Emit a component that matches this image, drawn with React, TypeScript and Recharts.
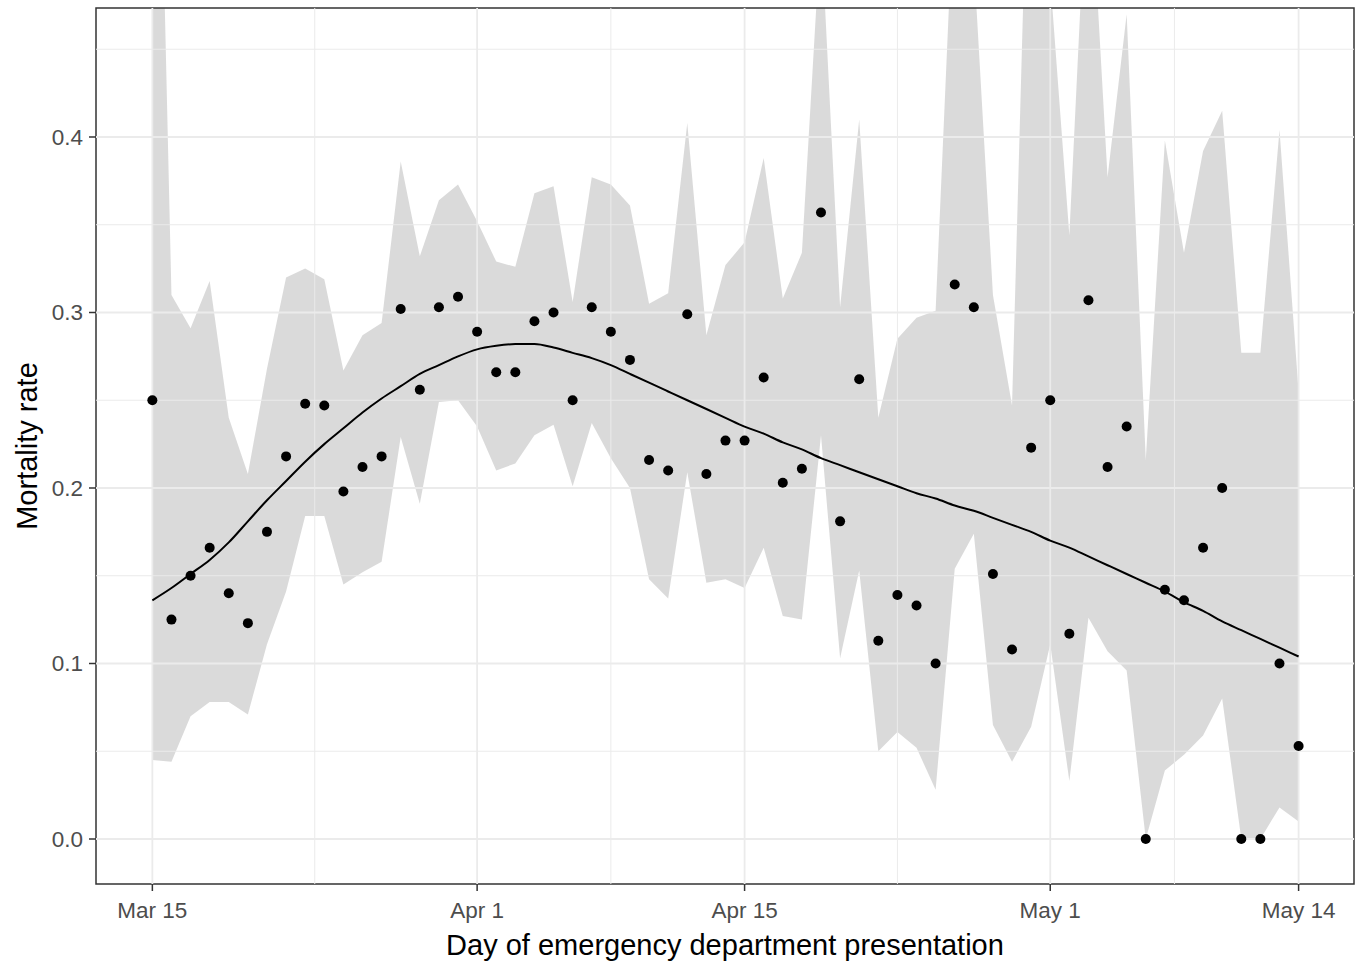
import {
  ComposedChart,
  Area,
  Line,
  Scatter,
  XAxis,
  YAxis,
  ReferenceLine,
  ReferenceArea,
} from 'recharts';

// day index 0 = Mar 15
const tickDays = [0, 17, 31, 47, 60];
const tickLabels = ['Mar 15', 'Apr 1', 'Apr 15', 'May 1', 'May 14'];
const minorDays = [8.5, 24, 39, 53.5];
const yTicks = [0, 0.1, 0.2, 0.3, 0.4];
const yMinor = [0.05, 0.15, 0.25, 0.35, 0.45];

const rate = [
  0.25, 0.125, 0.15, 0.166, 0.14, 0.123, 0.175, 0.218, 0.248, 0.247,
  0.198, 0.212, 0.218, 0.302, 0.256, 0.303, 0.309, 0.289, 0.266, 0.266,
  0.295, 0.3, 0.25, 0.303, 0.289, 0.273, 0.216, 0.21, 0.299, 0.208,
  0.227, 0.227, 0.263, 0.203, 0.211, 0.357, 0.181, 0.262, 0.113, 0.139,
  0.133, 0.1, 0.316, 0.303, 0.151, 0.108, 0.223, 0.25, 0.117, 0.307,
  0.212, 0.235, 0, 0.142, 0.136, 0.166, 0.2, 0, 0, 0.1,
  0.053,
];

const lower = [
  0.045, 0.044, 0.07, 0.078, 0.078, 0.071, 0.111, 0.141, 0.184, 0.184,
  0.145, 0.152, 0.158, 0.229, 0.191, 0.249, 0.25, 0.235, 0.21, 0.214,
  0.23, 0.236, 0.201, 0.237, 0.217, 0.2, 0.148, 0.137, 0.209, 0.146,
  0.148, 0.143, 0.166, 0.127, 0.125, 0.23, 0.103, 0.153, 0.05, 0.061,
  0.052, 0.028, 0.154, 0.174, 0.065, 0.044, 0.064, 0.111, 0.033, 0.126,
  0.107, 0.096, 0, 0.039, 0.048, 0.059, 0.08, 0, 0, 0.018,
  0.01,
];

const upper = [
  0.78, 0.31, 0.291, 0.318, 0.24, 0.208, 0.268, 0.32, 0.325, 0.319,
  0.267, 0.287, 0.294, 0.386, 0.332, 0.364, 0.373, 0.352, 0.329, 0.326,
  0.368, 0.372, 0.306, 0.377, 0.373, 0.361, 0.305, 0.311, 0.408, 0.287,
  0.327, 0.34, 0.388, 0.308, 0.334, 0.52, 0.303, 0.41, 0.24, 0.285,
  0.297, 0.301, 0.55, 0.5, 0.31, 0.247, 0.64, 0.49, 0.344, 0.57,
  0.377, 0.47, 0.216, 0.398, 0.334, 0.392, 0.415, 0.277, 0.277, 0.404,
  0.255,
];

const smooth = [
  0.136, 0.143, 0.151, 0.159, 0.169, 0.181, 0.193, 0.204, 0.215, 0.225,
  0.234, 0.243, 0.251, 0.258, 0.265, 0.27, 0.275, 0.279, 0.281, 0.282,
  0.282, 0.28, 0.277, 0.274, 0.27, 0.265, 0.26, 0.255, 0.25, 0.245,
  0.24, 0.235, 0.231, 0.226, 0.222, 0.217, 0.213, 0.209, 0.205, 0.201,
  0.197, 0.194, 0.19, 0.187, 0.183, 0.179, 0.175, 0.17, 0.166, 0.161,
  0.156, 0.151, 0.146, 0.141, 0.135, 0.13, 0.124, 0.119, 0.114, 0.109,
  0.104,
];

const rows = rate.map((r, i) => ({
  day: i,
  rate: r,
  band: [lower[i], upper[i]],
  smooth: smooth[i],
}));

const FONT = "Arial, 'Liberation Sans', sans-serif";
const X_DOMAIN = [-2.95, 62.9];
const Y_DOMAIN = [-0.02564, 0.4735];

const renderYTitle = (props: any) => {
  const { x, y, height } = props.viewBox;
  const cx = x + 27;
  const cy = y + height / 2;
  return (
    <text
      x={cx}
      y={cy}
      transform={`rotate(-90, ${cx}, ${cy})`}
      textAnchor="middle"
      dominantBaseline="central"
      fontSize={29}
      fontFamily={FONT}
      fill="#000"
    >
      Mortality rate
    </text>
  );
};

const renderXTitle = (props: any) => {
  const { x, y, width } = props.viewBox;
  return (
    <text
      x={x + width / 2}
      y={y + 61}
      textAnchor="middle"
      dominantBaseline="central"
      fontSize={29}
      fontFamily={FONT}
      fill="#000"
    >
      Day of emergency department presentation
    </text>
  );
};

const Dot = (props: any) => {
  const { cx, cy } = props;
  if (cx == null || cy == null) return null;
  return <circle cx={cx} cy={cy} r={5} fill="#000" />;
};

export default function App() {
  return (
    <div style={{ position: 'absolute', left: 0, top: 0, background: '#fff' }}>
      <ComposedChart
        width={1363}
        height={962}
        data={rows}
        margin={{ top: 8, right: 9, left: 0, bottom: 0 }}
      >
        <XAxis
          type="number"
          dataKey="day"
          domain={X_DOMAIN}
          allowDataOverflow
          ticks={tickDays}
          interval={0}
          tickFormatter={(v: number) => tickLabels[tickDays.indexOf(v)]}
          tick={{ fontSize: 22.5, fill: '#4d4d4d', fontFamily: FONT }}
          tickSize={7}
          tickMargin={11}
          tickLine={{ stroke: '#333', strokeWidth: 1.5 }}
          axisLine={false}
          height={78}
          label={renderXTitle}
        />
        <YAxis
          type="number"
          domain={Y_DOMAIN}
          allowDataOverflow
          ticks={yTicks}
          interval={0}
          tickFormatter={(v: number) => v.toFixed(1)}
          tick={{ fontSize: 22.5, fill: '#4d4d4d', fontFamily: FONT }}
          tickSize={7}
          tickMargin={6}
          tickLine={{ stroke: '#333', strokeWidth: 1.5 }}
          axisLine={false}
          width={96}
          label={renderYTitle}
        />

        {yMinor.map((v) => (
          <ReferenceLine key={`ym-${v}`} y={v} stroke="#ebebeb" strokeWidth={1} />
        ))}
        {minorDays.map((v) => (
          <ReferenceLine key={`xm-${v}`} x={v} stroke="#ebebeb" strokeWidth={1} />
        ))}
        {yTicks.map((v) => (
          <ReferenceLine key={`y-${v}`} y={v} stroke="#ebebeb" strokeWidth={1.8} />
        ))}
        {tickDays.map((v) => (
          <ReferenceLine key={`x-${v}`} x={v} stroke="#ebebeb" strokeWidth={1.8} />
        ))}

        <Area
          type="linear"
          dataKey="band"
          stroke="none"
          fill="#a3a3a3"
          fillOpacity={0.4}
          isAnimationActive={false}
        />
        <Scatter dataKey="rate" shape={<Dot />} isAnimationActive={false} />
        <Line
          type="monotone"
          dataKey="smooth"
          stroke="#000"
          strokeWidth={2}
          dot={false}
          activeDot={false}
          isAnimationActive={false}
        />

        <ReferenceArea
          x1={X_DOMAIN[0]}
          x2={X_DOMAIN[1]}
          y1={Y_DOMAIN[0]}
          y2={Y_DOMAIN[1]}
          fill="none"
          stroke="#333"
          strokeWidth={1.5}
          ifOverflow="visible"
        />
      </ComposedChart>
    </div>
  );
}
